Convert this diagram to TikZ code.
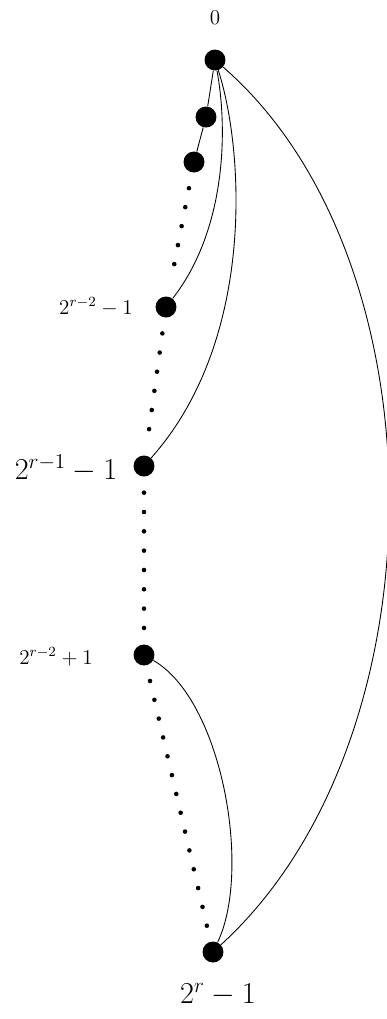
\documentclass[tikz,border=0pt]{standalone}
\usepackage{tikz}
\usetikzlibrary{positioning,calc}
\tikzset{
  vtx/.style={circle,fill=black,inner sep=0pt,minimum size=0.42cm},
  dotline/.style={line width=2.6pt,line cap=round,dash pattern=on 0pt off 11pt,shorten <=9pt,shorten >=9pt},
  arc/.style={line width=0.5pt},
}
\begin{document}
\begin{tikzpicture}[x=0.02cm,y=-0.02cm]
\useasboundingbox (0,0) rectangle (386,1019);
% vertices
\node[vtx] (v0) at (215,60) {};
\node[vtx] (v1) at (206,117) {};
\node[vtx] (v2) at (194,162) {};
\node[vtx] (v3) at (166,307) {};
\node[vtx] (v4) at (144,466) {};
\node[vtx] (v5) at (144,655) {};
\node[vtx] (v6) at (213,952) {};
% labels
\node[font=\large] (l0) at (215,18) {$0$};
\node[font=\large] (l3) at (96,307) {$2^{r-2}-1$};
\node[font=\LARGE] (l4) at (66,468) {$2^{r-1}-1$};
\node[font=\large] (l5) at (56,657) {$2^{r-2}+1$};
\node[font=\LARGE] (l6) at (218,995) {$2^{r}-1$};
% path
\draw[arc] (v0) -- (v1);
\draw[arc] (v1) -- (v2);
\draw[dotline] (v2) -- (v3);
\draw[dotline] (v3) -- (v4);
\draw[dotline] (v4) -- (v5);
\draw[dotline] (v5) -- (v6);
% chords
\draw[arc] (v0) .. controls (228,130) and (226,230) .. (v3);
\draw[arc] (v0) .. controls (244,150) and (256,340) .. (v4);
\draw[arc] (v0) .. controls (445,260) and (445,740) .. (v6);
\draw[arc] (v5) .. controls (222,700) and (252,870) .. (v6);
\end{tikzpicture}
\end{document}
